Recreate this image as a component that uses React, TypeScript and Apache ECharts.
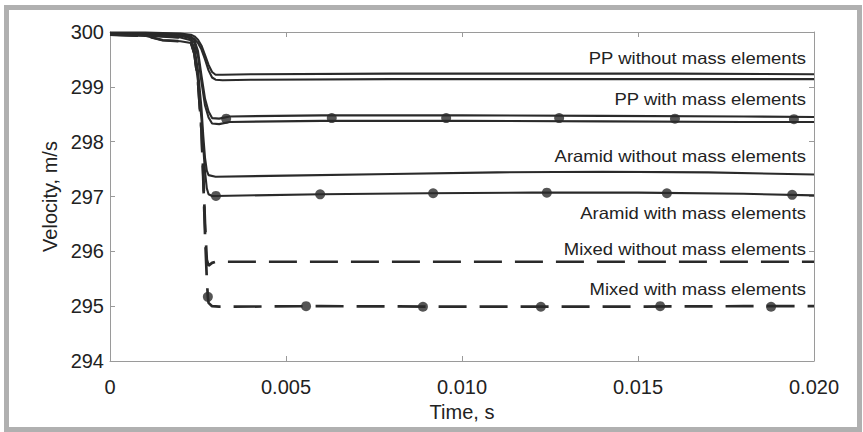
import React, { useEffect, useRef } from "react";
import * as echarts from "echarts";

// ---- data ----
const ppWithoutT = [0, 0.001, 0.002, 0.0023, 0.0024, 0.0025, 0.0026, 0.0027, 0.0028, 0.0029, 0.003, 0.0032, 0.004, 0.008, 0.012, 0.016, 0.02];
const ppWithoutUpperV = [299.99, 299.99, 299.97, 299.95, 299.92, 299.86, 299.75, 299.58, 299.4, 299.27, 299.22, 299.22, 299.23, 299.24, 299.24, 299.24, 299.23];
const ppWithoutLowerV = [299.96, 299.96, 299.94, 299.91, 299.87, 299.8, 299.68, 299.5, 299.3, 299.17, 299.13, 299.12, 299.13, 299.14, 299.14, 299.14, 299.14];

const ppWithT = [0, 0.001, 0.002, 0.0023, 0.0024, 0.0025, 0.0026, 0.0027, 0.0028, 0.0029, 0.0031, 0.0034, 0.006, 0.01, 0.014, 0.018, 0.02];
const ppWithUpperV = [299.98, 299.98, 299.96, 299.92, 299.85, 299.65, 299.2, 298.78, 298.55, 298.43, 298.42, 298.46, 298.48, 298.48, 298.47, 298.46, 298.45];
const ppWithLowerV = [299.95, 299.95, 299.93, 299.88, 299.8, 299.55, 299.08, 298.66, 298.44, 298.33, 298.32, 298.36, 298.38, 298.38, 298.37, 298.36, 298.36];
const ppWithMarkT = [0.0033, 0.0063, 0.00955, 0.01276, 0.01605, 0.01943];
const ppWithMarkV = [298.42, 298.43, 298.43, 298.43, 298.42, 298.41];

const aramidWithoutT = [0, 0.001, 0.002, 0.0023, 0.0024, 0.0025, 0.0026, 0.00265, 0.0027, 0.00275, 0.0028, 0.003, 0.005, 0.008, 0.011, 0.014, 0.017, 0.02];
const aramidWithoutV = [299.95, 299.94, 299.9, 299.85, 299.7, 299.3, 298.6, 298.1, 297.7, 297.47, 297.39, 297.36, 297.38, 297.41, 297.44, 297.45, 297.44, 297.4];

const aramidWithT = [0, 0.001, 0.0015, 0.002, 0.0023, 0.0024, 0.0025, 0.0026, 0.00265, 0.0027, 0.00275, 0.0028, 0.0029, 0.003, 0.006, 0.009, 0.012, 0.015, 0.018, 0.02];
const aramidWithV = [299.95, 299.93, 299.85, 299.83, 299.8, 299.6, 299.1, 298.4, 297.9, 297.45, 297.15, 297.04, 297.01, 297.01, 297.04, 297.06, 297.07, 297.07, 297.05, 297.02];
const aramidWithMarkT = [0.00301, 0.00597, 0.00918, 0.01241, 0.01582, 0.01938];
const aramidWithMarkV = [297.01, 297.04, 297.06, 297.07, 297.06, 297.03];

const mixedWithoutT = [0, 0.001, 0.002, 0.0023, 0.0024, 0.0025, 0.0026, 0.00265, 0.0027, 0.00275, 0.0028, 0.0029, 0.003, 0.006, 0.01, 0.014, 0.018, 0.02];
const mixedWithoutV = [299.95, 299.94, 299.9, 299.84, 299.6, 299.1, 298.2, 297.4, 296.5, 295.85, 295.74, 295.79, 295.81, 295.81, 295.81, 295.81, 295.81, 295.81];

const mixedWithT = [0, 0.001, 0.0015, 0.002, 0.0023, 0.0024, 0.0025, 0.0026, 0.00265, 0.0027, 0.00275, 0.00278, 0.0028, 0.0029, 0.0031, 0.006, 0.01, 0.014, 0.018, 0.02];
const mixedWithV = [299.95, 299.93, 299.85, 299.83, 299.8, 299.6, 299.1, 298.2, 297.3, 296.3, 295.5, 295.17, 295.06, 295.0, 294.99, 295.0, 294.99, 294.99, 295.0, 295.0];
const mixedWithMarkT = [0.00278, 0.00557, 0.00889, 0.01224, 0.01563, 0.01878];
const mixedWithMarkV = [295.17, 295.0, 294.99, 294.99, 295.0, 294.99];

const curveLabels = [
  "PP without mass elements",
  "PP with mass elements",
  "Aramid without mass elements",
  "Aramid with mass elements",
  "Mixed without mass elements",
  "Mixed with mass elements",
];
const labelYs = [58.5, 99.5, 156.5, 213, 249.5, 289];

const xTickLabels = ["0", "0.005", "0.010", "0.015", "0.020"];

const zip = (t: number[], v: number[]) => t.map((x, i) => [x, v[i]]);

const INK = "#2a2a2a";
const AXIS = "#9a9a9a";
const FONT = "'Liberation Sans', Arial, sans-serif";

function lineSeries(name: string, t: number[], v: number[], dashed = false) {
  return {
    name,
    type: "line",
    data: zip(t, v),
    showSymbol: false,
    symbol: "none",
    smooth: false,
    lineStyle: {
      color: INK,
      width: dashed ? 2.7 : 2.1,
      type: dashed ? [28, 13] : "solid",
    },
    z: 3,
  };
}

function markSeries(name: string, t: number[], v: number[]) {
  return {
    name,
    type: "scatter",
    data: zip(t, v),
    symbol: "circle",
    symbolSize: 10,
    itemStyle: { color: INK },
    z: 5,
  };
}

export default function App() {
  const ref = useRef<HTMLDivElement>(null);
  useEffect(() => {
    if (!ref.current) return;
    const chart = echarts.init(ref.current, undefined, { renderer: "svg" });
    const axisCommon = {
      axisLine: { show: true, onZero: false, lineStyle: { color: AXIS, width: 1 } },
      axisTick: { show: true, inside: true, length: 5, lineStyle: { color: AXIS } },
      splitLine: { show: false },
    };
    chart.setOption({
      animation: false,
      backgroundColor: "#ffffff",
      textStyle: { fontFamily: FONT },
      grid: { left: 110, right: 49, top: 32, bottom: 71, containLabel: false },
      xAxis: [
        {
          type: "value",
          min: 0,
          max: 0.02,
          interval: 0.005,
          position: "bottom",
          ...axisCommon,
          axisLabel: {
            fontSize: 20,
            color: "#222",
            margin: 16,
            fontFamily: FONT,
            formatter: (val: number) => xTickLabels[Math.round(val / 0.005)] ?? "",
          },
          name: "Time, s",
          nameLocation: "middle",
          nameGap: 38,
          nameTextStyle: { fontSize: 20, color: "#222", fontFamily: FONT },
        },
        {
          type: "value",
          min: 0,
          max: 0.02,
          interval: 0.005,
          position: "top",
          ...axisCommon,
          axisLabel: { show: false },
        },
      ],
      yAxis: [
        {
          type: "value",
          min: 294,
          max: 300,
          interval: 1,
          position: "left",
          ...axisCommon,
          axisLabel: { fontSize: 20, color: "#222", margin: 6, fontFamily: FONT },
          name: "Velocity, m/s",
          nameLocation: "middle",
          nameGap: 48,
          nameTextStyle: { fontSize: 20, color: "#222", fontFamily: FONT },
        },
        {
          type: "value",
          min: 294,
          max: 300,
          interval: 1,
          position: "right",
          ...axisCommon,
          axisLabel: { show: false },
        },
      ],
      series: [
        lineSeries("PP without mass elements (a)", ppWithoutT, ppWithoutUpperV),
        lineSeries("PP without mass elements (b)", ppWithoutT, ppWithoutLowerV),
        lineSeries("PP with mass elements (a)", ppWithT, ppWithUpperV),
        lineSeries("PP with mass elements (b)", ppWithT, ppWithLowerV),
        markSeries("PP with mass elements markers", ppWithMarkT, ppWithMarkV),
        lineSeries("Aramid without mass elements", aramidWithoutT, aramidWithoutV),
        lineSeries("Aramid with mass elements", aramidWithT, aramidWithV),
        markSeries("Aramid with mass elements markers", aramidWithMarkT, aramidWithMarkV),
        lineSeries("Mixed without mass elements", mixedWithoutT, mixedWithoutV, true),
        lineSeries("Mixed with mass elements", mixedWithT, mixedWithV, true),
        markSeries("Mixed with mass elements markers", mixedWithMarkT, mixedWithMarkV),
      ],
      graphic: [
        {
          type: "rect",
          shape: { x: 6.5, y: 7.5, width: 853, height: 422 },
          style: { fill: "none", stroke: "#b0b0b0", lineWidth: 5 },
          silent: true,
          z: 10,
        },
        ...curveLabels.map((txt, i) => ({
          type: "text",
          x: 806,
          y: labelYs[i],
          scaleX: 1.12,
          style: {
            text: txt,
            fill: "#222",
            font: `16.5px ${FONT}`,
            textAlign: "right",
            textVerticalAlign: "middle",
          },
          z: 10,
        })),
      ],
    });
    return () => chart.dispose();
  }, []);
  return (
    <div
      ref={ref}
      style={{ position: "absolute", left: 0, top: 0, width: 863, height: 432 }}
    />
  );
}
